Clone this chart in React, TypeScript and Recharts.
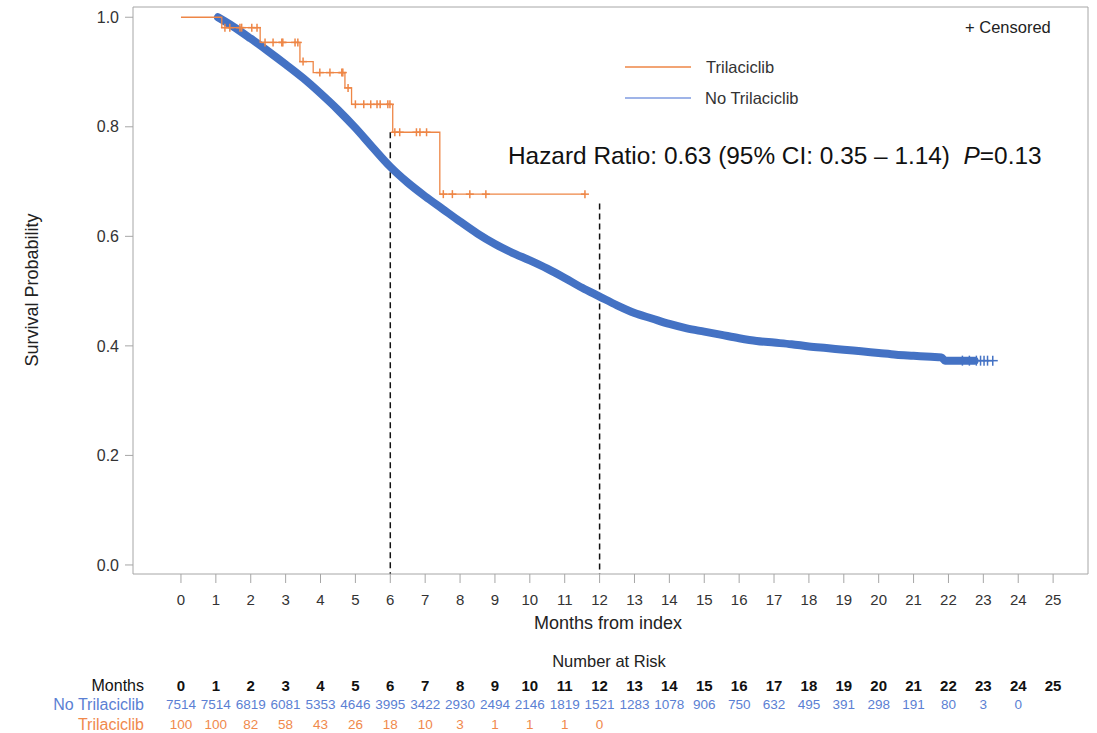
import React from "react";
import {
  ComposedChart,
  Line,
  Scatter,
  XAxis,
  YAxis,
  ReferenceLine,
} from "recharts";

// Kaplan-Meier curve, Trilaciclib arm (step changes)
const trilaciclib = [
  { t: 0, s: 1.0 },
  { t: 1.17, s: 0.981 },
  { t: 2.27, s: 0.954 },
  { t: 3.41, s: 0.919 },
  { t: 3.79, s: 0.899 },
  { t: 4.7, s: 0.871 },
  { t: 4.89, s: 0.841 },
  { t: 6.07, s: 0.79 },
  { t: 7.42, s: 0.677 },
  { t: 11.58, s: 0.677 },
];

const trilaciclibCensored = [
  { t: 1.26, s: 0.981 }, { t: 1.4, s: 0.981 }, { t: 1.69, s: 0.981 },
  { t: 1.74, s: 0.981 }, { t: 2.03, s: 0.981 }, { t: 2.18, s: 0.981 },
  { t: 2.41, s: 0.954 }, { t: 2.64, s: 0.954 }, { t: 2.89, s: 0.954 },
  { t: 2.92, s: 0.954 }, { t: 3.27, s: 0.954 }, { t: 3.35, s: 0.954 },
  { t: 3.5, s: 0.919 },
  { t: 3.98, s: 0.899 }, { t: 4.27, s: 0.899 }, { t: 4.61, s: 0.899 },
  { t: 4.64, s: 0.899 },
  { t: 4.79, s: 0.871 },
  { t: 5.0, s: 0.841 }, { t: 5.24, s: 0.841 }, { t: 5.44, s: 0.841 },
  { t: 5.62, s: 0.841 }, { t: 5.71, s: 0.841 }, { t: 5.93, s: 0.841 },
  { t: 5.99, s: 0.841 },
  { t: 6.13, s: 0.79 }, { t: 6.27, s: 0.79 }, { t: 6.75, s: 0.79 },
  { t: 6.85, s: 0.79 }, { t: 7.04, s: 0.79 },
  { t: 7.52, s: 0.677 }, { t: 7.78, s: 0.677 }, { t: 8.28, s: 0.677 },
  { t: 8.74, s: 0.677 }, { t: 11.58, s: 0.677 },
];

// No Trilaciclib arm (dense events, read as a curve)
const noTrilaciclib = [
  { t: 1.06, s: 1.0 }, { t: 1.5, s: 0.983 }, { t: 2.0, s: 0.961 },
  { t: 2.5, s: 0.938 }, { t: 3.0, s: 0.914 }, { t: 3.5, s: 0.889 },
  { t: 4.0, s: 0.861 }, { t: 4.5, s: 0.831 }, { t: 5.0, s: 0.798 },
  { t: 5.5, s: 0.762 }, { t: 6.0, s: 0.727 }, { t: 6.5, s: 0.698 },
  { t: 7.0, s: 0.673 }, { t: 7.5, s: 0.65 }, { t: 8.0, s: 0.627 },
  { t: 8.5, s: 0.605 }, { t: 9.0, s: 0.586 }, { t: 9.5, s: 0.57 },
  { t: 10.0, s: 0.556 }, { t: 10.5, s: 0.541 }, { t: 11.0, s: 0.524 },
  { t: 11.5, s: 0.506 }, { t: 12.0, s: 0.49 }, { t: 12.5, s: 0.474 },
  { t: 13.0, s: 0.46 }, { t: 13.5, s: 0.45 }, { t: 14.0, s: 0.44 },
  { t: 14.5, s: 0.432 }, { t: 15.0, s: 0.426 }, { t: 15.5, s: 0.42 },
  { t: 16.0, s: 0.414 }, { t: 16.5, s: 0.409 }, { t: 17.0, s: 0.406 },
  { t: 17.5, s: 0.403 }, { t: 18.0, s: 0.399 }, { t: 18.5, s: 0.396 },
  { t: 19.0, s: 0.393 }, { t: 19.5, s: 0.39 }, { t: 20.0, s: 0.387 },
  { t: 20.5, s: 0.384 }, { t: 21.0, s: 0.382 }, { t: 21.5, s: 0.38 },
  { t: 21.8, s: 0.379 }, { t: 21.9, s: 0.373 }, { t: 22.75, s: 0.373 },
];

const noTrilaciclibCensored = [
  { t: 22.4, s: 0.373 }, { t: 22.6, s: 0.373 }, { t: 22.8, s: 0.373 },
  { t: 22.92, s: 0.373 }, { t: 23.02, s: 0.373 }, { t: 23.12, s: 0.373 },
  { t: 23.27, s: 0.373 },
];

// dashed landmark lines at 6 and 12 months
const landmarks = [
  { t: 6, s: 0.79 },
  { t: 12, s: 0.66 },
];

const monthTicks = [
  0, 1, 2, 3, 4, 5, 6, 7, 8, 9, 10, 11, 12, 13, 14, 15, 16, 17, 18, 19, 20,
  21, 22, 23, 24, 25,
];
const survivalTicks = [0, 0.2, 0.4, 0.6, 0.8, 1.0];

const noTriRisk = [
  7514, 7514, 6819, 6081, 5353, 4646, 3995, 3422, 2930, 2494, 2146, 1819, 1521,
  1283, 1078, 906, 750, 632, 495, 391, 298, 191, 80, 3, 0,
];
const triRisk = [100, 100, 82, 58, 43, 26, 18, 10, 3, 1, 1, 1, 0];

const X_MIN = -1.375;
const X_MAX = 26;
const Y_MIN = -0.0165;
const Y_MAX = 1.0187;

const ORANGE = "#ee8646";
const BLUE = "#4472c4";
const RISK_BLUE = "#5b7fd3";
const RISK_ORANGE = "#f0894c";
const AXIS = "#a6a6a6";
const FONT = "Arial, 'Liberation Sans', sans-serif";

const rowLabels: Record<number, { text: string; color: string }> = {
  1: { text: "Months", color: "#111" },
  2: { text: "No Trilaciclib", color: RISK_BLUE },
  3: { text: "Trilaciclib", color: RISK_ORANGE },
};

const riskRows = [
  ...monthTicks.map((m) => ({ t: m, s: 1, label: String(m) })),
  ...noTriRisk.map((n, i) => ({ t: monthTicks[i], s: 2, label: String(n) })),
  ...triRisk.map((n, i) => ({ t: monthTicks[i], s: 3, label: String(n) })),
];

const Cross = (color: string, r: number) => (props: any) => {
  const { cx, cy } = props;
  return (
    <g stroke={color} strokeWidth={1.5}>
      <line x1={cx - r} x2={cx + r} y1={cy} y2={cy} />
      <line x1={cx} x2={cx} y1={cy - r} y2={cy + r} />
    </g>
  );
};

const RiskText = (props: any) => {
  const { cx, cy, payload } = props;
  const row = payload.s;
  const color = row === 1 ? "#111" : row === 2 ? RISK_BLUE : RISK_ORANGE;
  return (
    <text
      x={cx}
      y={cy}
      textAnchor="middle"
      dominantBaseline="central"
      fontSize={row === 1 ? 15 : 13.5}
      fontWeight={row === 1 ? "bold" : "normal"}
      fill={color}
      fontFamily={FONT}
    >
      {payload.label}
    </text>
  );
};

const RowLabel = (props: any) => {
  const { x, y, payload } = props;
  const info = rowLabels[payload.value];
  if (!info) return null;
  return (
    <text
      x={x + 11}
      y={y}
      textAnchor="end"
      dominantBaseline="central"
      fontSize={16}
      fill={info.color}
      fontFamily={FONT}
    >
      {info.text}
    </text>
  );
};

const App = () => {
  return (
    <div
      style={{
        position: "absolute",
        left: 0,
        top: 0,
        width: 1097,
        height: 733,
        background: "#fff",
        fontFamily: FONT,
      }}
    >
      <ComposedChart
        width={1097}
        height={733}
        margin={{ top: 7, right: 9, left: 73, bottom: 119 }}
        style={{ position: "absolute", left: 0, top: 0 }}
      >
        <XAxis
          type="number"
          dataKey="t"
          domain={[X_MIN, X_MAX]}
          ticks={monthTicks}
          interval={0}
          allowDataOverflow
          height={40}
          stroke={AXIS}
          tickSize={9}
          tickMargin={11}
          tick={{ fill: "#333", fontSize: 15, fontFamily: FONT }}
        />
        <YAxis
          type="number"
          dataKey="s"
          domain={[Y_MIN, Y_MAX]}
          ticks={survivalTicks}
          interval={0}
          allowDataOverflow
          width={60}
          stroke={AXIS}
          tickSize={8}
          tickMargin={6}
          tickFormatter={(v) => v.toFixed(1)}
          tick={{ fill: "#333", fontSize: 16, fontFamily: FONT }}
        />
        <ReferenceLine y={Y_MAX} stroke={AXIS} />
        <ReferenceLine x={X_MAX} stroke={AXIS} />
        {landmarks.map((d) => (
          <ReferenceLine
            key={d.t}
            segment={[
              { x: d.t, y: d.s },
              { x: d.t, y: Y_MIN },
            ]}
            stroke="#111"
            strokeWidth={1.5}
            strokeDasharray="6 4"
          />
        ))}
        <Line
          data={noTrilaciclib}
          dataKey="s"
          type="monotone"
          stroke={BLUE}
          strokeWidth={8}
          strokeLinecap="round"
          dot={false}
          isAnimationActive={false}
        />
        <Scatter
          data={noTrilaciclibCensored}
          dataKey="s"
          shape={Cross(BLUE, 5)}
          isAnimationActive={false}
        />
        <Line
          data={trilaciclib}
          dataKey="s"
          type="stepAfter"
          stroke={ORANGE}
          strokeWidth={1.3}
          dot={false}
          isAnimationActive={false}
        />
        <Scatter
          data={trilaciclibCensored}
          dataKey="s"
          shape={Cross(ORANGE, 4)}
          isAnimationActive={false}
        />
      </ComposedChart>

      <ComposedChart
        width={1097}
        height={68}
        margin={{ top: 0, right: 9, left: 0, bottom: 0 }}
        style={{ position: "absolute", left: 0, top: 666 }}
      >
        <XAxis
          type="number"
          dataKey="t"
          domain={[X_MIN, X_MAX]}
          allowDataOverflow
          hide
        />
        <YAxis
          type="number"
          dataKey="s"
          domain={[0, 3.5]}
          reversed
          ticks={[1, 2, 3]}
          interval={0}
          width={133}
          axisLine={false}
          tickLine={false}
          tickSize={0}
          tickMargin={0}
          tick={<RowLabel />}
        />
        <Scatter
          data={riskRows}
          dataKey="s"
          shape={RiskText}
          isAnimationActive={false}
        />
      </ComposedChart>

      <svg
        width={1097}
        height={733}
        style={{ position: "absolute", left: 0, top: 0, pointerEvents: "none" }}
        fontFamily={FONT}
      >
        <text
          x={32}
          y={290}
          transform="rotate(-90 32 290)"
          textAnchor="middle"
          dominantBaseline="central"
          fontSize={18}
          fill="#222"
        >
          Survival Probability
        </text>
        <text
          x={608}
          y={623}
          textAnchor="middle"
          dominantBaseline="central"
          fontSize={18}
          fill="#222"
        >
          Months from index
        </text>
        <text
          x={609}
          y={661}
          textAnchor="middle"
          dominantBaseline="central"
          fontSize={16.5}
          fill="#222"
        >
          Number at Risk
        </text>
        <text x={965} y={27} dominantBaseline="central" fontSize={16.5} fill="#222">
          + Censored
        </text>
        <line x1={625} x2={691} y1={67} y2={67} stroke={ORANGE} strokeWidth={1.5} />
        <text x={706} y={67} dominantBaseline="central" fontSize={16.5} fill="#333">
          Trilaciclib
        </text>
        <line x1={625} x2={691} y1={98} y2={98} stroke="#7f9be0" strokeWidth={1.5} />
        <text x={705} y={98} dominantBaseline="central" fontSize={16.5} fill="#333">
          No Trilaciclib
        </text>
        <text x={508} y={155} dominantBaseline="central" fontSize={24.4} fill="#111">
          Hazard Ratio: 0.63 (95% CI: 0.35 – 1.14){"\u00a0\u00a0"}
          <tspan fontStyle="italic">P</tspan>=0.13
        </text>
      </svg>
    </div>
  );
};

export default App;
